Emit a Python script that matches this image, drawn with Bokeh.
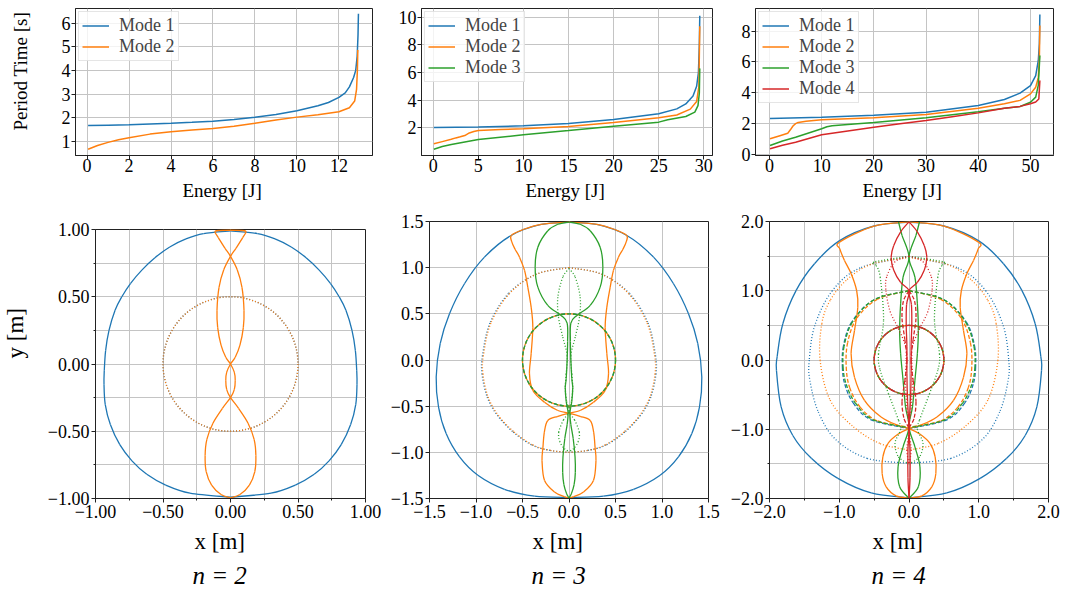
import math
from bokeh.plotting import figure
from bokeh.layouts import column, row
from bokeh.models import Range1d, FixedTicker, Title
from bokeh.embed import file_html
from bokeh.resources import INLINE

# ---------------- top row: period time [s] vs energy [J] ----------------
n2_E1 = [0.05, 1, 2, 3, 4, 5, 6, 7, 8, 9, 10, 11, 11.5, 12, 12.3, 12.5, 12.7, 12.8, 12.87, 12.91, 12.93]
n2_T1 = [1.66, 1.68, 1.70, 1.73, 1.76, 1.80, 1.85, 1.92, 2.01, 2.13, 2.29, 2.50, 2.64, 2.86, 3.05, 3.30, 3.70, 4.00, 4.60, 5.50, 6.40]
n2_E2 = [0.05, 0.5, 1, 1.5, 2, 3, 4, 5, 6, 7, 8, 9, 10, 11, 12, 12.5, 12.75, 12.84, 12.88, 12.9]
n2_T2 = [0.66, 0.82, 0.95, 1.06, 1.15, 1.30, 1.40, 1.47, 1.54, 1.63, 1.76, 1.90, 2.02, 2.12, 2.25, 2.42, 2.70, 3.20, 4.00, 4.87]

n3_E1 = [0.07, 5, 10, 15, 20, 25, 27, 28, 28.8, 29.2, 29.4, 29.5, 29.55]
n3_T1 = [2.02, 2.05, 2.14, 2.31, 2.60, 3.01, 3.37, 3.73, 4.30, 5.00, 6.00, 8.00, 10.10]
n3_E2 = [0.07, 1, 2, 2.5, 3, 3.5, 4, 4.5, 5, 7.5, 10, 15, 20, 25, 27, 28.5, 29.2, 29.45, 29.55]
n3_T2 = [0.84, 1.00, 1.17, 1.27, 1.35, 1.44, 1.63, 1.73, 1.80, 1.87, 1.93, 2.09, 2.38, 2.72, 2.93, 3.35, 3.90, 5.00, 9.35]
n3_E3 = [0.07, 1, 2, 5, 10, 15, 20, 25, 26, 28, 29, 29.35, 29.5, 29.55]
n3_T3 = [0.45, 0.65, 0.79, 1.15, 1.49, 1.80, 2.12, 2.41, 2.58, 2.82, 3.13, 3.60, 4.50, 6.30]

n4_E1 = [0.1, 10, 20, 30, 40, 45, 48, 50, 51, 51.5, 51.7, 51.8]
n4_T1 = [2.33, 2.42, 2.54, 2.74, 3.18, 3.57, 3.98, 4.47, 5.12, 6.10, 7.20, 9.08]
n4_E2 = [0.1, 2, 3.5, 4, 4.5, 5, 5.5, 7, 10, 20, 30, 40, 45, 48, 50, 51, 51.5, 51.7, 51.8]
n4_T2 = [1.02, 1.22, 1.38, 1.60, 1.85, 2.00, 2.08, 2.15, 2.25, 2.38, 2.59, 3.00, 3.29, 3.51, 3.93, 4.36, 5.00, 6.20, 8.37]
n4_E3 = [0.1, 2.5, 5, 7.5, 10, 11, 12, 15, 20, 30, 40, 45, 48, 50, 51, 51.5, 51.8]
n4_T3 = [0.58, 0.88, 1.12, 1.40, 1.67, 1.80, 1.86, 1.95, 2.07, 2.38, 2.78, 3.00, 3.11, 3.39, 3.72, 4.50, 6.42]
n4_E4 = [0.1, 2.5, 5, 10, 15, 20, 25, 30, 35, 40, 45, 48, 50, 51, 51.6, 51.8]
n4_T4 = [0.37, 0.60, 0.80, 1.28, 1.53, 1.77, 1.99, 2.20, 2.45, 2.70, 3.00, 3.12, 3.29, 3.40, 3.60, 4.80]

mode_labels = ["Mode 1", "Mode 2", "Mode 3", "Mode 4"]

# ---------------- bottom row: trajectories, right halves (mirrored in x) ----------------
ring_r = [0.5]  # radius of the first mass' circle

# n = 2
n2_m1_x = [0, 0.20, 0.33, 0.45, 0.56, 0.655, 0.74, 0.805, 0.855, 0.90, 0.925, 0.935, 0.937, 0.928, 0.89, 0.82, 0.73, 0.62, 0.48, 0.30, 0]
n2_m1_y = [0.99, 0.97, 0.93, 0.87, 0.79, 0.70, 0.60, 0.50, 0.40, 0.25, 0.10, -0.05, -0.15, -0.30, -0.45, -0.60, -0.72, -0.82, -0.90, -0.96, -0.99]
n2_m2_x = [-0.11, 0.0, 0.11, 0.09, 0.04, 0.0, -0.05, -0.085, -0.1, -0.095, -0.07, -0.035, 0.0, 0.028, 0.035, 0.028, 0.0, -0.06, -0.13, -0.175, -0.188, -0.18, -0.14, -0.07, 0.0]
n2_m2_y = [0.99, 0.995, 0.99, 0.94, 0.86, 0.80, 0.70, 0.57, 0.40, 0.27, 0.14, 0.05, 0.0, -0.06, -0.12, -0.19, -0.25, -0.33, -0.44, -0.56, -0.68, -0.80, -0.90, -0.97, -0.995]

# n = 3
n3_m1_x = [0, 0.299, 0.622, 0.909, 1.124, 1.285, 1.385, 1.428, 1.403, 1.321, 1.177, 0.980, 0.694, 0.371, 0]
n3_m1_y = [1.49, 1.468, 1.349, 1.114, 0.826, 0.501, 0.177, -0.184, -0.509, -0.797, -1.050, -1.248, -1.400, -1.475, -1.49]
n3_mid_y = [1.0, 0.93, 0.72, 0.40, 0.05, -0.15, -0.40, -0.60, -0.78, -0.92, -0.98, -1.0]
n3_m1_mid_x = [0, 0.35, 0.65, 0.85, 0.93, 0.935, 0.88, 0.77, 0.60, 0.40, 0.20, 0]
n3_m2_mid_x = [0, 0.35, 0.64, 0.84, 0.92, 0.925, 0.87, 0.76, 0.59, 0.39, 0.20, 0]
n3_m2_x = [0, 0.30, 0.50, 0.62, 0.615, 0.58, 0.532, 0.478, 0.443, 0.407, 0.389, 0.407, 0.425, 0.389, 0.263, 0.12, 0, -0.12, -0.228, -0.265, -0.28, -0.29, -0.263, -0.156, -0.05, 0]
n3_m2_y = [1.495, 1.47, 1.41, 1.35, 1.28, 1.20, 1.114, 0.97, 0.789, 0.572, 0.356, 0.068, -0.15, -0.33, -0.457, -0.547, -0.576, -0.61, -0.655, -0.78, -0.944, -1.09, -1.305, -1.43, -1.48, -1.495]
n3_m3_x = [0, 0.12, 0.228, 0.335, 0.364, 0.335, 0.228, 0.085, 0.02, 0.015, 0.02, 0.03, 0.04, 0.03, 0.01, 0.02, 0.045, 0.065, 0.068, 0.055, 0.025, 0]
n3_m3_y = [1.495, 1.47, 1.40, 1.222, 1.005, 0.789, 0.591, 0.483, 0.40, 0.20, 0.0, -0.20, -0.30, -0.45, -0.57, -0.70, -0.85, -1.05, -1.22, -1.35, -1.45, -1.495]
n3_m3_mid_x = [0, 0.067, 0.12, 0.113, 0.067, 0.02, 0.03, 0.04, 0.025, 0, 0.06, 0.11, 0.10, 0.05, 0]
n3_m3_mid_y = [0.99, 0.897, 0.68, 0.464, 0.248, 0.05, -0.15, -0.30, -0.45, -0.56, -0.65, -0.78, -0.88, -0.96, -0.99]

# n = 4
n4_m1_x = [0, 0.5, 1.0, 1.355, 1.618, 1.809, 1.89, 1.90, 1.833, 1.666, 1.40, 1.02, 0.542, 0]
n4_m1_y = [1.99, 1.935, 1.72, 1.39, 1.005, 0.524, 0.05, -0.15, -0.678, -1.09, -1.42, -1.71, -1.92, -1.99]
n4_m1_d3_x = [0, 0.7, 1.1, 1.35, 1.43, 1.42, 1.30, 1.05, 0.60, 0]
n4_m1_d3_y = [1.49, 1.33, 1.0, 0.5, 0.0, -0.3, -0.75, -1.15, -1.42, -1.49]
n4_m1_d2_x = [0, 0.5, 0.82, 0.94, 0.955, 0.92, 0.80, 0.55, 0]
n4_m1_d2_y = [1.0, 0.87, 0.55, 0.2, -0.1, -0.35, -0.62, -0.86, -0.99]
n4_m2_d2_x = [0, 0.45, 0.75, 0.88, 0.90, 0.85, 0.70, 0.45, 0]
n4_m2_d2_y = [1.0, 0.88, 0.60, 0.25, -0.10, -0.40, -0.68, -0.88, -0.97]
n4_m2_d3_x = [0, 0.55, 0.9, 1.13, 1.25, 1.274, 1.13, 0.796, 0.413, 0]
n4_m2_d3_y = [1.48, 1.38, 1.15, 0.861, 0.524, -0.005, -0.58, -0.966, -1.207, -1.30]
n4_m2_x = [0, 0.5, 0.996, 0.99, 0.925, 0.829, 0.75, 0.734, 0.781, 0.83, 0.781, 0.638, 0.4, 0.16, 0, -0.16, -0.303, -0.375, -0.385, -0.327, -0.184, 0]
n4_m2_y = [1.995, 1.935, 1.702, 1.60, 1.438, 1.245, 1.0, 0.763, 0.427, 0.09, -0.25, -0.583, -0.824, -0.944, -0.99, -1.072, -1.207, -1.399, -1.639, -1.832, -1.962, -1.995]
n4_m3_d2_x = [0, 0.5, 0.81, 0.93, 0.945, 0.90, 0.77, 0.52, 0]
n4_m3_d2_y = [1.0, 0.87, 0.55, 0.2, -0.1, -0.35, -0.62, -0.86, -0.98]
n4_m3_d3_x = [0, 0.5, 0.47, 0.413, 0.365, 0.437, 0.413, 0.294, 0.15, 0.12, 0.2, 0.15, 0]
n4_m3_d3_y = [1.5, 1.415, 1.365, 1.196, 0.571, 0.091, -0.149, -0.486, -0.87, -1.0, -1.2, -1.4, -1.5]
n4_m3_x = [0.15, 0.10, 0, 0.085, 0.12, 0.134, 0.12, 0.085, 0.05, 0, 0.085, 0.157, 0.134, 0]
n4_m3_y = [1.995, 1.8, 1.485, 1.196, 0.81, 0.427, 0.09, -0.293, -0.677, -0.966, -1.254, -1.543, -1.83, -1.995]
n4_m4_d2_x = [0, 0.08, 0.10, 0.06, 0.03, 0.06, 0.10, 0.07, 0]
n4_m4_d2_y = [1.0, 0.85, 0.6, 0.3, 0.0, -0.3, -0.6, -0.85, -0.97]
n4_m4_d3_x = [0, 0.2, 0.32, 0.33, 0.27, 0.15, 0.05, 0.04, 0.05, 0.03, 0, 0.03, 0]
n4_m4_d3_y = [1.5, 1.42, 1.2, 1.0, 0.7, 0.45, 0.2, 0.0, -0.3, -0.7, -1.0, -1.3, -1.5]
n4_m4_x = [0, 0.12, 0.22, 0.255, 0.22, 0.12, 0, 0.035, 0.04, 0.03, 0.03, 0.02, 0, 0.015, 0.015, 0]
n4_m4_y = [1.995, 1.85, 1.65, 1.48, 1.3, 1.12, 1.0, 0.8, 0.5, 0.2, -0.2, -0.6, -1.0, -1.3, -1.7, -1.995]

# ---------------- styling ----------------
BLUE, ORANGE, GREEN, RED = "#1f77b4", "#ff7f0e", "#2ca02c", "#d62728"
FONT = "Liberation Serif"
INK = "#222222"
GRID = "#c4c4c4"
DOT, DASH, DASHDOT = "1 2", "4 2", "8 2 1 2"


def make_fig(w, h, bl, br, bt, bb, xr, yr):
    p = figure(width=w, height=h, x_range=Range1d(xr[0], xr[1]), y_range=Range1d(yr[0], yr[1]),
               output_backend="svg", toolbar_location=None,
               min_border_left=bl, min_border_right=br, min_border_top=bt, min_border_bottom=bb)
    p.outline_line_color = INK
    p.outline_line_width = 1
    p.outline_line_alpha = 1
    p.background_fill_color = "white"
    p.border_fill_color = "white"
    return p


def style_axes(p, xt, yt, xlab=None, ylab=None, minor=None, fs="18px", xso=1, yso=2):
    for ax, grid, ticks, labs, so in ((p.xaxis[0], p.xgrid[0], xt, xlab, xso),
                                      (p.yaxis[0], p.ygrid[0], yt, ylab, yso)):
        tk = FixedTicker(ticks=ticks, minor_ticks=minor or [])
        ax.ticker = tk
        grid.ticker = tk
        if labs:
            ax.major_label_overrides = {t: s for t, s in zip(ticks, labs)}
        ax.major_label_text_font = FONT
        ax.major_label_text_font_size = fs
        ax.major_label_text_color = "black"
        ax.major_label_standoff = so
        ax.axis_line_color = INK
        ax.major_tick_line_color = INK
        ax.major_tick_in = 0
        ax.major_tick_out = 4
        if minor:
            ax.minor_tick_line_color = INK
            ax.minor_tick_in = 0
            ax.minor_tick_out = 2
        else:
            ax.minor_tick_line_color = None
        grid.grid_line_color = GRID
        grid.grid_line_width = 1
        if minor:
            grid.minor_grid_line_color = GRID
            grid.minor_grid_line_width = 1


def add_title(p, text, where, size, offset=0, standoff=0, style="normal"):
    p.add_layout(Title(text=text, align="left", offset=offset, standoff=standoff,
                       text_font=FONT, text_font_size=size, text_font_style=style,
                       text_color="black"), where)


def add_spacer(p, where, gap):
    p.add_layout(Title(text=" ", text_font_size="1px", standoff=gap), where)


def style_legend(p):
    lg = p.legend[0]
    lg.location = "top_left"
    lg.label_text_font = FONT
    lg.label_text_font_size = "18px"
    lg.glyph_width = 27
    lg.glyph_height = 19
    lg.label_height = 19
    lg.spacing = -2
    lg.label_standoff = 10
    lg.padding = 3
    lg.margin = 3
    lg.border_line_color = "#cccccc"
    lg.border_line_width = 1
    lg.background_fill_alpha = 0.8


def bez(p, xs, ys, color, dash, lw):
    # smooth curve through the read points (Catmull-Rom drawn as Bezier segments)
    n = len(xs)
    d = dict(x0=[], y0=[], x1=[], y1=[], cx0=[], cy0=[], cx1=[], cy1=[])
    for i in range(n - 1):
        xa, ya, xb, yb = xs[i], ys[i], xs[i + 1], ys[i + 1]
        xp, yp = (xs[i - 1], ys[i - 1]) if i > 0 else (xa, ya)
        xn, yn = (xs[i + 2], ys[i + 2]) if i + 2 < n else (xb, yb)
        d["x0"].append(xa); d["y0"].append(ya); d["x1"].append(xb); d["y1"].append(yb)
        d["cx0"].append(xa + (xb - xp) / 6); d["cy0"].append(ya + (yb - yp) / 6)
        d["cx1"].append(xb - (xn - xa) / 6); d["cy1"].append(yb - (yn - ya) / 6)
    p.bezier(source=d, x0="x0", y0="y0", x1="x1", y1="y1", cx0="cx0", cy0="cy0",
             cx1="cx1", cy1="cy1", line_color=color, line_dash=dash, line_width=lw)


def sym(p, xs, ys, color, dash="solid", lw=1.3):
    bez(p, xs, ys, color, dash, lw)
    bez(p, [-v for v in xs], ys, color, dash, lw)


def ring(p, r, color, dash, lw=1.3, offset=0):
    p.ellipse(x=[0.0], y=[0.0], width=[2 * r[0]], height=[2 * r[0]], fill_color=None,
              line_color=color, line_dash=dash, line_width=lw, line_dash_offset=offset)


# ---------------- top row ----------------
t1 = make_fig(380, 205, 75, 8, 8, 50, (-0.55, 13.6), (0.394, 6.623))
for E, T, c, lab in ((n2_E1, n2_T1, BLUE, mode_labels[0]), (n2_E2, n2_T2, ORANGE, mode_labels[1])):
    t1.line(E, T, line_color=c, line_width=1.5, legend_label=lab)
style_axes(t1, [0, 2, 4, 6, 8, 10, 12], [1, 2, 3, 4, 5, 6], xso=-1, yso=1)
style_legend(t1)
add_spacer(t1, "left", 25)
add_title(t1, "Period Time [s]", "left", "19px", offset=25, standoff=0)

t2 = make_fig(345, 205, 41, 13, 8, 50, (-1.3, 30.96), (-0.003, 10.63))
for E, T, c, lab in ((n3_E1, n3_T1, BLUE, mode_labels[0]), (n3_E2, n3_T2, ORANGE, mode_labels[1]),
                     (n3_E3, n3_T3, GREEN, mode_labels[2])):
    t2.line(E, T, line_color=c, line_width=1.5, legend_label=lab)
style_axes(t2, [0, 5, 10, 15, 20, 25, 30], [2, 4, 6, 8, 10], xso=-1, yso=1)
style_legend(t2)

t3 = make_fig(348, 205, 30, 20, 8, 50, (-2.68, 54.41), (-0.065, 9.47))
for E, T, c, lab in ((n4_E1, n4_T1, BLUE, mode_labels[0]), (n4_E2, n4_T2, ORANGE, mode_labels[1]),
                     (n4_E3, n4_T3, GREEN, mode_labels[2]), (n4_E4, n4_T4, RED, mode_labels[3])):
    t3.line(E, T, line_color=c, line_width=1.5, legend_label=lab)
style_axes(t3, [0, 10, 20, 30, 40, 50], [0, 2, 4, 6, 8], xso=-1, yso=1)
style_legend(t3)

for t, eo in ((t1, 107), (t2, 104), (t3, 107)):
    add_title(t, "Energy [J]", "below", "19px", offset=eo, standoff=6)

# ---------------- bottom row ----------------
b1 = make_fig(385, 384, 93, 20, 24, 91, (-1, 1), (-1, 1))
t_b1 = [-1, -0.5, 0, 0.5, 1]
l_b1 = ["\u22121.00", "\u22120.50", "0.00", "0.50", "1.00"]
style_axes(b1, t_b1, t_b1, l_b1, l_b1, minor=[-0.75, -0.25, 0.25, 0.75], xso=2, yso=2)
ring(b1, ring_r, BLUE, DOT)
sym(b1, n2_m1_x, n2_m1_y, BLUE)
ring(b1, ring_r, ORANGE, DOT)
sym(b1, n2_m2_x, n2_m2_y, ORANGE)
add_spacer(b1, "left", 14)
add_title(b1, "y [m]", "left", "23px", offset=140, standoff=0)

b2 = make_fig(340, 384, 44, 17, 16, 91, (-1.5, 1.5), (-1.5, 1.5))
t_b2 = [-1.5, -1, -0.5, 0, 0.5, 1, 1.5]
l_b2 = ["\u22121.5", "\u22121.0", "\u22120.5", "0.0", "0.5", "1.0", "1.5"]
style_axes(b2, t_b2, t_b2, l_b2, l_b2, xso=2, yso=2)
ring(b2, ring_r, BLUE, DASH)
sym(b2, n3_m1_mid_x, n3_mid_y, BLUE, DOT)
sym(b2, n3_m1_x, n3_m1_y, BLUE)
ring(b2, ring_r, ORANGE, DASH, offset=2)
sym(b2, n3_m2_mid_x, n3_mid_y, ORANGE, DOT)
sym(b2, n3_m2_x, n3_m2_y, ORANGE)
ring(b2, ring_r, GREEN, DASH)
sym(b2, n3_m3_mid_x, n3_m3_mid_y, GREEN, DOT)
sym(b2, n3_m3_x, n3_m3_y, GREEN)

b3 = make_fig(348, 384, 44, 25, 16, 91, (-2, 2), (-2, 2))
t_b3 = [-2, -1, 0, 1, 2]
l_b3 = ["\u22122.0", "\u22121.0", "0.0", "1.0", "2.0"]
style_axes(b3, t_b3, t_b3, l_b3, l_b3, minor=[-1.5, -0.5, 0.5, 1.5], xso=2, yso=2)
ring(b3, ring_r, BLUE, DASHDOT)
sym(b3, n4_m1_d2_x, n4_m1_d2_y, BLUE, DASH)
sym(b3, n4_m1_d3_x, n4_m1_d3_y, BLUE, DOT)
sym(b3, n4_m1_x, n4_m1_y, BLUE)
ring(b3, ring_r, ORANGE, DASHDOT, offset=3)
sym(b3, n4_m2_d2_x, n4_m2_d2_y, ORANGE, DASH)
sym(b3, n4_m2_d3_x, n4_m2_d3_y, ORANGE, DOT)
sym(b3, n4_m2_x, n4_m2_y, ORANGE)
ring(b3, ring_r, GREEN, DASHDOT, offset=6)
sym(b3, n4_m3_d2_x, n4_m3_d2_y, GREEN, DASH)
sym(b3, n4_m3_d3_x, n4_m3_d3_y, GREEN, DOT)
sym(b3, n4_m3_x, n4_m3_y, GREEN)
ring(b3, ring_r, RED, DASHDOT, offset=9)
sym(b3, n4_m4_d2_x, n4_m4_d2_y, RED, DASH)
sym(b3, n4_m4_d3_x, n4_m4_d3_y, RED, DOT)
sym(b3, n4_m4_x, n4_m4_y, RED)

for b, cap, xo, no in ((b1, "n = 2", 99, 97), (b2, "n = 3", 103, 102), (b3, "n = 4", 103, 102)):
    add_title(b, "x [m]", "below", "23px", offset=xo, standoff=12)
    add_title(b, cap, "below", "25px", offset=no, standoff=0, style="italic")

layout = column(row(t1, t2, t3), row(column(b1), column(b2), column(b3)))
open("out.html", "w").write(file_html(layout, INLINE))
